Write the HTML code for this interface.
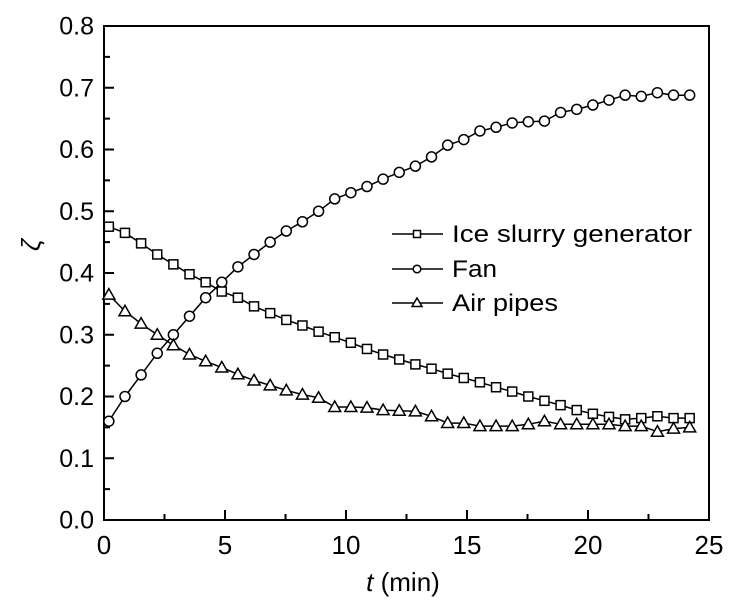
<!DOCTYPE html><html><head><style>body{margin:0;background:#fff}svg{display:block}text{font-family:"Liberation Sans",Arial,sans-serif;fill:#000}</style></head><body>
<svg id="s" width="750" height="601" xmlns="http://www.w3.org/2000/svg"></svg>
<script>
const X=t=>104+t*24.2,Y=v=>520-v*617.5;
const F=[0.16,0.2,0.235,0.27,0.3,0.33,0.36,0.385,0.41,0.43,0.45,0.468,0.483,0.5,0.52,0.53,0.54,0.552,0.563,0.573,0.588,0.607,0.616,0.63,0.636,0.643,0.645,0.646,0.66,0.665,0.672,0.68,0.688,0.686,0.692,0.688,0.688];
const S=[0.475,0.465,0.448,0.43,0.414,0.398,0.385,0.37,0.36,0.346,0.335,0.324,0.315,0.305,0.296,0.287,0.277,0.268,0.26,0.252,0.245,0.237,0.23,0.223,0.215,0.208,0.2,0.193,0.186,0.178,0.172,0.167,0.163,0.165,0.168,0.165,0.165];
const T=[0.365,0.338,0.318,0.3,0.283,0.268,0.257,0.247,0.236,0.226,0.218,0.21,0.203,0.198,0.183,0.183,0.182,0.178,0.177,0.176,0.168,0.157,0.157,0.152,0.152,0.152,0.155,0.16,0.155,0.155,0.155,0.155,0.152,0.152,0.143,0.148,0.15];
let h='<rect x="104" y="26" width="605" height="494" fill="none" stroke="#000" stroke-width="2"/>';
for(let i=0;i<=10;i++){let x=X(i*2.5),l=i%2?6:10;h+=`<line x1="${x}" y1="520" x2="${x}" y2="${520-l}" stroke="#000" stroke-width="2"/>`;if(i%2==0)h+=`<text x="${x}" y="554" font-size="26" text-anchor="middle">${i*2.5}</text>`;}
for(let i=0;i<=16;i++){let y=Y(i*0.05),l=i%2?6:10;h+=`<line x1="104" y1="${y}" x2="${104+l}" y2="${y}" stroke="#000" stroke-width="2"/>`;if(i%2==0)h+=`<text x="94" y="${y+8.5}" font-size="25" text-anchor="end">${(i*0.05).toFixed(1)}</text>`;}
const tt=i=>0.2+i*0.6667;
function ser(d,m){let p=d.map((v,i)=>X(tt(i)).toFixed(1)+','+Y(v).toFixed(1)).join(' ');h+=`<polyline points="${p}" fill="none" stroke="#000" stroke-width="1.5"/>`;d.forEach((v,i)=>h+=m(X(tt(i)),Y(v)));}
const sq=(x,y)=>`<rect x="${x-4.5}" y="${y-4.5}" width="9" height="9" fill="#fff" stroke="#000" stroke-width="1.5"/>`;
const ci=(x,y)=>`<circle cx="${x}" cy="${y}" r="5" fill="#fff" stroke="#000" stroke-width="1.5"/>`;
const tr=(x,y)=>`<polygon points="${x},${y-6} ${x-6},${y+4.5} ${x+6},${y+4.5}" fill="#fff" stroke="#000" stroke-width="1.5"/>`;
const sq2=(x,y)=>`<rect x="${x-3.5}" y="${y-3.5}" width="7" height="7" fill="#fff" stroke="#000" stroke-width="1.5"/>`;
const ci2=(x,y)=>`<circle cx="${x}" cy="${y}" r="3.8" fill="#fff" stroke="#000" stroke-width="1.5"/>`;
const tr2=(x,y)=>`<polygon points="${x},${y-5} ${x-5},${y+3.5} ${x+5},${y+3.5}" fill="#fff" stroke="#000" stroke-width="1.5"/>`;
ser(F,ci);ser(S,sq);ser(T,tr);
[[sq2,234,'Ice slurry generator',240],[ci2,269,'Fan',45],[tr2,303,'Air pipes',106]].forEach(([m,y,s,w])=>{h+=`<line x1="392" y1="${y}" x2="443" y2="${y}" stroke="#000" stroke-width="1.5"/>`+m(417,y)+`<text x="452" y="${y+8}" font-size="24.5" textLength="${w}" lengthAdjust="spacingAndGlyphs">${s}</text>`;});
h+='<text x="403" y="591" font-size="26" text-anchor="middle"><tspan font-style="italic">t</tspan> (min)</text>';
h+='<text transform="translate(40,245) rotate(-90)" font-size="26" font-style="italic" text-anchor="middle">ζ</text>';
document.getElementById('s').innerHTML=h;
</script></body></html>
